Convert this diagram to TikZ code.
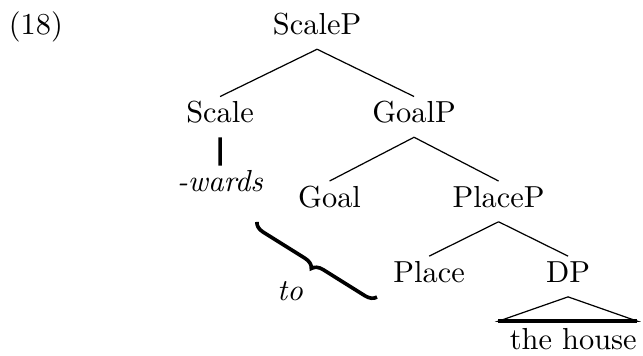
\documentclass[tikz,border=0pt]{standalone}
\usepackage{tikz}
\usetikzlibrary{trees}
\usetikzlibrary{decorations.pathreplacing}

\begin{document}
\begin{tikzpicture}[
    every node/.style={inner sep=1pt, text height=7.5pt, text depth=3.5pt, anchor=base},
    parent anchor=south, child anchor=north, growth parent anchor=base,
    level distance=28.95pt
  ]
    \useasboundingbox (0,0) rectangle (211.5pt,-116.8pt);
    \node (ex-num) at (11.8pt,-11.5pt) {(18)};
    \node (scale-p) at (104.3pt,-11.5pt) {ScaleP} [sibling distance=63.8pt]
    child {
        node (scale) {Scale}
          [level distance=22.7pt]
        child {
            node (wards) {\textit{-wards}}
            edge from parent[very thick]
          }
      }
    child {
        node (goal-p) {GoalP}
          [sibling distance=55.6pt, level distance=27.8pt]
        child { node (goal) {Goal} }
        child {
            node (place-p) {PlaceP}
              [sibling distance=45.7pt, level distance=24.7pt]
            child { node (place) {Place} }
            child {
                node (dp) {DP}
                  [level distance=22pt]
                child {
                    node[xshift=1.7pt] (house) {the house}
                    edge from parent[draw=none]
                  }
              }
          }
      };
    % triangle over "the house"
    \draw (dp.south) -- ++(-22.9pt,-8pt) coordinate (base-l)
      -- ++(45.7pt,0pt) coordinate (base-r) -- cycle;
    \draw[very thick] (base-l) -- (base-r);
    % brace for "to"
    \coordinate (brace-top) at (84.5pt,-73pt);
    \coordinate (brace-end) at (124pt,-97.7pt);
    \draw[very thick, decorate, decoration={brace, amplitude=3.5pt}] (brace-end) -- (brace-top);
    \node (to-label) at (95.4pt,-99pt) {\textit{to}};
  \end{tikzpicture}
\end{document}
